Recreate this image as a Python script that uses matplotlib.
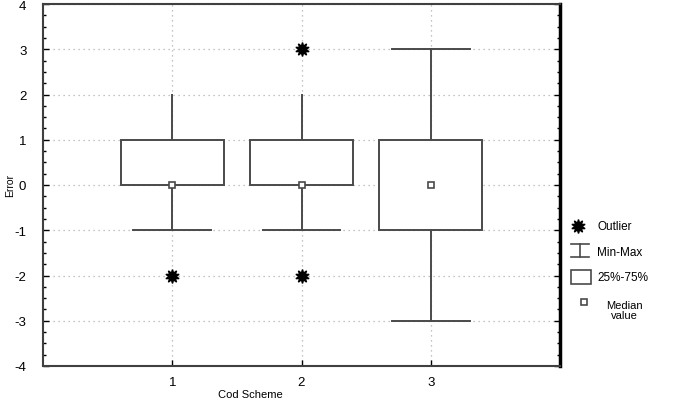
import matplotlib
matplotlib.use("Agg")
import matplotlib.pyplot as plt
from matplotlib.patches import Rectangle
from matplotlib.lines import Line2D
from matplotlib.ticker import MultipleLocator

plt.rcParams['font.family'] = ['Liberation Sans', 'DejaVu Sans']
plt.rcParams['axes.unicode_minus'] = False

# box data per coding scheme
schemes = [1, 2, 3]
q1 = [0, 0, -1]
q3 = [1, 1, 1]
median = [0, 0, 0]
wmin = [-1, -1, -3]
wmax = [2, 2, 3]
cap_low = [True, True, True]
cap_high = [False, False, True]
outlier_x = [1, 2, 2]
outlier_y = [-2, 3, -2]

line_col = '#4a4a4a'
box_w = 0.8
cap_w = 0.6

fig = plt.figure(figsize=(6.8, 4.02), dpi=100)
ax = fig.add_axes([43 / 680, 1 - 367 / 402, 517 / 680, 362 / 402])

ax.set_xlim(0, 4)
ax.set_ylim(-4, 4)
ax.set_xticks(schemes)
ax.yaxis.set_major_locator(MultipleLocator(1))
ax.yaxis.set_minor_locator(MultipleLocator(0.25))
ax.grid(True, which='major', color='#b0b0b0', linestyle=(0, (1, 3)), linewidth=0.9)
ax.set_axisbelow(True)

for i, x in enumerate(schemes):
    # whiskers
    ax.plot([x, x], [q3[i], wmax[i]], color=line_col, lw=1.4, zorder=2)
    ax.plot([x, x], [wmin[i], q1[i]], color=line_col, lw=1.4, zorder=2)
    if cap_low[i]:
        ax.plot([x - cap_w / 2, x + cap_w / 2], [wmin[i], wmin[i]], color=line_col, lw=1.4, zorder=2)
    if cap_high[i]:
        ax.plot([x - cap_w / 2, x + cap_w / 2], [wmax[i], wmax[i]], color=line_col, lw=1.4, zorder=2)
    ax.add_patch(Rectangle((x - box_w / 2, q1[i]), box_w, q3[i] - q1[i],
                           facecolor='white', edgecolor=line_col, lw=1.4, zorder=3))
    ax.plot(x, median[i], marker='s', ms=5, mfc='white', mec=line_col, mew=1.2, zorder=4)

ax.plot(outlier_x, outlier_y, linestyle='none', marker=(10, 1, 0), ms=10,
        color='black', zorder=5)

ax.tick_params(which='both', direction='in', right=True, top=False,
               labelsize=9.5, color='black')
ax.tick_params(which='major', length=4, width=1)
ax.tick_params(which='minor', length=2.5, width=1)
ax.tick_params(axis='y', pad=12)
ax.tick_params(axis='x', pad=7)
for s in ['left', 'bottom', 'top']:
    ax.spines[s].set_color('#404040')
    ax.spines[s].set_linewidth(1.5)
ax.spines['right'].set_color('black')
ax.spines['right'].set_linewidth(2.5)

fig.text(10 / 680, 1 - 186 / 402, 'Error', rotation=90, ha='center', va='center', fontsize=7.5)
fig.text(250 / 680, 1 - 395 / 402, 'Cod Scheme', ha='center', va='center', fontsize=8)

# legend drawn by hand at right side
def fx(px):
    return px / 680

def fy(py):
    return 1 - py / 402

fig.add_artist(Line2D([fx(578)], [fy(227)], marker=(10, 1, 0), ms=10, color='black',
                      transform=fig.transFigure))
fig.text(fx(597), fy(227), 'Outlier', va='center', fontsize=8.5)

fig.add_artist(Line2D([fx(571), fx(589)], [fy(245), fy(245)], color=line_col, lw=1.2,
                      transform=fig.transFigure))
fig.add_artist(Line2D([fx(571), fx(589)], [fy(258), fy(258)], color=line_col, lw=1.2,
                      transform=fig.transFigure))
fig.add_artist(Line2D([fx(580), fx(580)], [fy(245), fy(258)], color=line_col, lw=1.2,
                      transform=fig.transFigure))
fig.text(fx(597), fy(253), 'Min-Max', va='center', fontsize=8.5)

fig.add_artist(Rectangle((fx(571), fy(285)), fx(20), 14 / 402, facecolor='white',
                         edgecolor=line_col, lw=1.2, transform=fig.transFigure))
fig.text(fx(597), fy(278), '25%-75%', va='center', fontsize=8.5)

fig.add_artist(Line2D([fx(584)], [fy(303)], marker='s', ms=4, mfc='white', mec=line_col,
                      mew=1.2, transform=fig.transFigure))
fig.text(fx(624), fy(311), 'Median\nvalue', ha='center', va='center', fontsize=8,
         linespacing=1.0)

fig.savefig('out.png', dpi=100, facecolor='white')
